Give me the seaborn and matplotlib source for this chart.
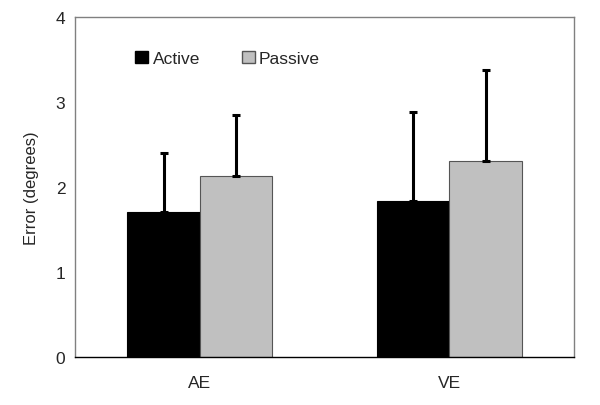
import pandas as pd
import numpy as np
import matplotlib
matplotlib.use("Agg")
import matplotlib.pyplot as plt
import seaborn as sns

measures = ["AE", "VE"]
conditions = ["Active", "Passive"]
active_means = [1.70, 1.84]
passive_means = [2.13, 2.31]
active_sd = [0.70, 1.04]
passive_sd = [0.72, 1.06]

df = pd.DataFrame({
    "measure": measures * 2,
    "condition": ["Active"] * 2 + ["Passive"] * 2,
    "error": active_means + passive_means,
    "sd": active_sd + passive_sd,
})

sns.set_style("white")
plt.rcParams["font.family"] = ["Liberation Sans", "DejaVu Sans"]

fig, ax = plt.subplots(figsize=(6, 4.06), dpi=100)
fig.subplots_adjust(left=0.125, right=0.957, top=0.956, bottom=0.118)

sns.barplot(data=df, x="measure", y="error", hue="condition", hue_order=conditions,
            palette={"Active": "black", "Passive": "#c0c0c0"}, width=0.58,
            errorbar=None, ax=ax, saturation=1)

edges = {"Active": "black", "Passive": "#555555"}
for cont, cond in zip(ax.containers, conditions):
    sub = df[df.condition == cond]
    for patch, m, s in zip(cont.patches, sub.error, sub.sd):
        patch.set_edgecolor(edges[cond])
        patch.set_linewidth(0.8)
        xc = patch.get_x() + patch.get_width() / 2
        ax.errorbar(xc, m, yerr=[[0], [s]], color="black", lw=2.2,
                    capsize=3, capthick=2.2)

ax.set_xlim(-0.5, 1.5)
ax.set_ylim(0, 4)
ax.set_yticks([0, 1, 2, 3, 4])
ax.set_xticks([0, 1])
ax.set_xticks([-0.5, 0.5, 1.5], minor=True)
ax.tick_params(axis="x", which="major", length=0, pad=13, labelsize=12.5)
ax.tick_params(axis="x", which="minor", length=4, color="#cccccc", direction="out")
ax.tick_params(axis="y", length=4, color="#999999", direction="out", labelsize=12.5, pad=3)
ax.set_xlabel("")
ax.set_ylabel("Error (degrees)", fontsize=12, labelpad=12)

for side in ["top", "right", "left"]:
    ax.spines[side].set_color("#808080")
    ax.spines[side].set_linewidth(1)
ax.spines["bottom"].set_color("black")
ax.spines["bottom"].set_linewidth(1)

handles, labels = ax.get_legend_handles_labels()
for h, cond in zip(handles, conditions):
    h.set_edgecolor(edges[cond])
ax.legend(handles, labels, loc="upper left", bbox_to_anchor=(0.107, 0.921), ncol=2,
          frameon=False, fontsize=12.5, handlelength=0.75, handleheight=0.75,
          handletextpad=0.25, columnspacing=2.4, borderaxespad=0)

fig.savefig("out.png", dpi=100)
